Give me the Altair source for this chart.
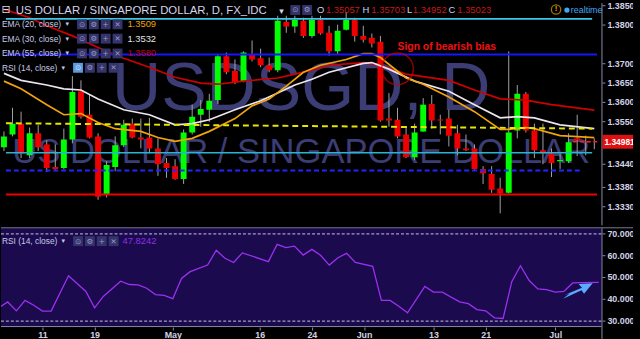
import altair as alt
import pandas as pd

# ---------------- data ----------------
# trading-day index: 0 = 11 Apr, 15 = 2 May, 37 = 1 Jun, 59 = 1 Jul
day = list(range(-5, 65))
open_ = [1.3484, 1.3517, 1.3545, 1.3463, 1.3520,
         1.3491, 1.3433, 1.3430, 1.3504, 1.3629, 1.3568, 1.3512, 1.3361, 1.3433, 1.3489,
         1.3545, 1.3509, 1.3509, 1.3481, 1.3443, 1.3435, 1.3402, 1.3522, 1.3568, 1.3581,
         1.3606, 1.3719, 1.3681, 1.3655, 1.3724, 1.3714, 1.3696, 1.3683, 1.3808, 1.3796,
         1.3811, 1.3772, 1.3813, 1.3780, 1.3732, 1.3788, 1.3813, 1.3772, 1.3767, 1.3757,
         1.3558, 1.3555, 1.3517, 1.3458, 1.3525, 1.3596, 1.3556, 1.3558, 1.3520, 1.3481,
         1.3481, 1.3428, 1.3415, 1.3377, 1.3366, 1.3527, 1.3622, 1.3527, 1.3476, 1.3468,
         1.3448, 1.3448, 1.3507, 1.3499, 1.3499]
high = [1.3525, 1.3586, 1.3576, 1.3535, 1.3542,
        1.3502, 1.3491, 1.3532, 1.3668, 1.3657, 1.3619, 1.3520, 1.3448, 1.3512, 1.3555,
        1.3558, 1.3558, 1.3560, 1.3507, 1.3456, 1.3453, 1.3530, 1.3594, 1.3606, 1.3622,
        1.3724, 1.3729, 1.3711, 1.3732, 1.3760, 1.3739, 1.3716, 1.3824, 1.3824, 1.3824,
        1.3819, 1.3824, 1.3824, 1.3798, 1.3801, 1.3834, 1.3819, 1.3798, 1.3778, 1.3772,
        1.3624, 1.3586, 1.3537, 1.3545, 1.3611, 1.3619, 1.3568, 1.3581, 1.3542, 1.3517,
        1.3491, 1.3435, 1.3435, 1.3405, 1.3732, 1.3645, 1.3627, 1.3545, 1.3545, 1.3481,
        1.3466, 1.3520, 1.3568, 1.3514, 1.3507]
low = [1.3474, 1.3512, 1.3456, 1.3456, 1.3474,
       1.3420, 1.3426, 1.3427, 1.3494, 1.3558, 1.3507, 1.3348, 1.3354, 1.3422, 1.3484,
       1.3507, 1.3481, 1.3468, 1.3410, 1.3405, 1.3400, 1.3389, 1.3517, 1.3537, 1.3550,
       1.3596, 1.3673, 1.3647, 1.3652, 1.3706, 1.3691, 1.3678, 1.3678, 1.3780, 1.3780,
       1.3767, 1.3767, 1.3775, 1.3721, 1.3724, 1.3786, 1.3757, 1.3755, 1.3742, 1.3550,
       1.3537, 1.3507, 1.3456, 1.3451, 1.3524, 1.3532, 1.3517, 1.3486, 1.3463, 1.3474,
       1.3426, 1.3389, 1.3366, 1.3313, 1.3364, 1.3507, 1.3522, 1.3456, 1.3440, 1.3407,
       1.3428, 1.3443, 1.3461, 1.3463, 1.3479]
close = [1.3512, 1.3545, 1.3468, 1.3520, 1.3484,
         1.3430, 1.3428, 1.3504, 1.3627, 1.3563, 1.3509, 1.3356, 1.3438, 1.3489, 1.3542,
         1.3509, 1.3504, 1.3481, 1.3440, 1.3430, 1.3402, 1.3522, 1.3563, 1.3583, 1.3604,
         1.3719, 1.3678, 1.3652, 1.3729, 1.3711, 1.3696, 1.3683, 1.3811, 1.3796, 1.3813,
         1.3772, 1.3813, 1.3778, 1.3732, 1.3785, 1.3813, 1.3772, 1.3762, 1.3752, 1.3553,
         1.3553, 1.3512, 1.3458, 1.3522, 1.3594, 1.3553, 1.3553, 1.3514, 1.3481, 1.3476,
         1.3428, 1.3417, 1.3374, 1.3364, 1.3522, 1.3622, 1.3527, 1.3476, 1.3468, 1.3443,
         1.3451, 1.3497, 1.3502, 1.3497, 1.3498]

ema20_day = [-5, -3, 0, 2, 4, 6, 8, 11, 13, 15, 17, 19, 22, 24, 26, 28, 30, 32, 35, 37,
             38, 39, 42, 44, 47, 50, 53, 54, 56, 57, 60, 64]
ema20_val = [1.3655, 1.3635, 1.3594, 1.3568, 1.3571, 1.3548, 1.3532, 1.3525, 1.3509, 1.3499,
             1.3507, 1.3525, 1.3558, 1.3591, 1.3609, 1.3642, 1.3678, 1.3696, 1.3711, 1.3726,
             1.3726, 1.3716, 1.3663, 1.3647, 1.3614, 1.3576, 1.3530, 1.3530, 1.3535, 1.3532,
             1.3514, 1.3509]
ema30_day = [-5, -3, 0, 2, 4, 6, 9, 12, 15, 17, 19, 22, 25, 27, 29, 31, 33, 37, 38, 40,
             43, 47, 50, 53, 55, 57, 60, 64]
ema30_val = [1.3675, 1.3657, 1.3645, 1.3635, 1.3632, 1.3609, 1.3581, 1.3568, 1.3542, 1.3545,
             1.3555, 1.3581, 1.3604, 1.3624, 1.3645, 1.3660, 1.3678, 1.3701, 1.3703, 1.3686,
             1.3655, 1.3629, 1.3594, 1.3560, 1.3563, 1.3560, 1.3542, 1.3532]
ema55_day = [-5, -2, 0, 3, 6, 9, 12, 15, 18, 20, 23, 27, 29, 31, 33, 37, 39, 42, 47, 50,
             53, 56, 59, 64]
ema55_val = [1.3841, 1.3819, 1.3798, 1.3772, 1.3742, 1.3714, 1.3691, 1.3665, 1.3650, 1.3647,
             1.3655, 1.3663, 1.3673, 1.3683, 1.3696, 1.3703, 1.3696, 1.3673, 1.3657, 1.3632,
             1.3609, 1.3606, 1.3594, 1.3580]

rsi_day = [-5, -4, -3, -2, -1, 0, 1, 3, 5, 6, 7, 9, 10, 11, 12, 13, 14, 15, 16, 17,
           19, 20, 21, 22, 23, 26, 27, 28, 29, 30, 31, 32, 33, 34, 35, 36, 38, 39, 40, 41,
           42, 44, 45, 46, 48, 49, 50, 51, 52, 53, 54, 55, 56, 57, 58, 59, 60, 61, 62, 64]
rsi_val = [36.2, 38.8, 34.7, 39.5, 37.3, 34.6, 34.6, 50.8, 43.6, 36.1, 41.3, 48.3, 46.8, 46.6, 45.1,
           42.2, 41.8, 40.3, 49.6, 52.7, 55.7, 62.5, 58.8, 56.9, 61.3, 57.3, 65.2, 63.7, 64.4, 60.3,
           62.9, 60.2, 55.7, 59.1, 61.1, 56.9, 55.1, 39.5, 39.5, 36.8, 33.8, 45.9, 43.3, 43.3, 38.8,
           38.0, 35.3, 34.7, 31.5, 31.2, 48.1, 55.4, 48.6, 44.8, 44.4, 43.3, 43.6, 47.5, 47.7, 47.8]

# drawn levels (price) and their end day
cyan_top = 1.3816
blue_level = 1.3724
cyan_mid = 1.3470
blue_dash_level = 1.3424
red_level = 1.3362
trend_day = [-4.77, 63.75]
trend_price = [1.3546, 1.3532]
last_price = 1.34981

x_tick_day = [0, 6, 15, 25, 31, 37, 45, 51, 59]
x_tick_lbl = ["11", "19", "May", "16", "24", "Jun", "13", "21", "Jul"]
price_ticks = [1.385, 1.38, 1.37, 1.365, 1.36, 1.355, 1.344, 1.338, 1.333]
rsi_ticks = [30, 40, 50, 60, 70]

# ---------------- layout / style ----------------
PLOT_W, FULL_W, TOP_H, BOT_H = 608, 640, 225, 100
PX_PER_DAY = 8.8
X0 = -4.77
X1 = X0 + PLOT_W / PX_PER_DAY      # right edge of the plotting area
XF = X0 + FULL_W / PX_PER_DAY      # right edge of the whole view (axis strip included)
xs = alt.Scale(domain=[X0, XF], nice=False, zero=False)
ys = alt.Scale(domain=[1.3282, 1.38568], nice=False, zero=False)
rs = alt.Scale(domain=[27.28, 72.58], nice=False, zero=False)
UI = "Liberation Sans, Arial, sans-serif"
TXT = "#c8c8e6"
AX_COL = "#8a8aaa"
AX_LBL = "#d2d2e6"

candles = pd.DataFrame({"day": day, "open": open_, "high": high, "low": low, "close": close})


def X(field="day:Q"):
    return alt.X(field, scale=xs, axis=None)


def Yp(field):
    return alt.Y(field, scale=ys, axis=None)


def Yr(field):
    return alt.Y(field, scale=rs, axis=None)


def one():
    return alt.Chart(pd.DataFrame({"a": [0]}))


def label(s, x, y, color=TXT, size=9, weight="normal", font=UI, align="left"):
    return alt.Chart(pd.DataFrame({"t": [s]})).mark_text(
        align=align, baseline="middle", color=color, fontSize=size, fontWeight=weight, font=font
    ).encode(x=alt.value(x), y=alt.value(y), text="t:N")


def icons(x0, yc, glyphs, hi=False):
    out = []
    for k, g in enumerate(glyphs):
        xl = x0 + 12 * k
        fill = "#5b9be0" if (hi and k == 0) else "#34346a"
        out.append(one().mark_rect(color=fill).encode(
            x=alt.value(xl), x2=alt.value(xl + 10), y=alt.value(yc - 5), y2=alt.value(yc + 5)))
        out.append(label(g, xl + 5, yc + 0.5, color="#e0e0f4" if (hi and k == 0) else "#9a9ac8",
                         size=7.5, font="DejaVu Sans", align="center"))
    return out


def hline(price, end, color, width, dash=None):
    df = pd.DataFrame({"d0": [X0], "d1": [end], "p": [price]})
    kw = dict(color=color, strokeWidth=width, clip=True)
    if dash:
        kw["strokeDash"] = dash
    return alt.Chart(df).mark_rule(**kw).encode(x=X("d0:Q"), x2="d1:Q", y=Yp("p:Q"))


def right_axis(ticks, fmt, yenc, height):
    df = pd.DataFrame({"v": ticks, "lbl": [format(t, fmt) for t in ticks]})
    line = one().mark_rule(color=AX_COL, strokeWidth=1).encode(
        x=alt.value(PLOT_W + 0.5), y=alt.value(0), y2=alt.value(height))
    tk = alt.Chart(df).mark_rule(color=AX_COL, strokeWidth=1).encode(
        x=alt.value(PLOT_W + 1), x2=alt.value(PLOT_W + 4), y=yenc("v:Q"))
    tx = alt.Chart(df).mark_text(
        align="left", baseline="middle", color=AX_LBL, fontSize=9, fontWeight="bold",
        font=UI, clip=True).encode(x=alt.value(PLOT_W + 6), y=yenc("v:Q"), text="lbl:N")
    return [line, tk, tx]


# watermark
wm1 = label("USDSGD, D", 304, 87, color="#3b3d74", size=69, align="center")
wm2 = label("US DOLLAR / SINGAPORE DOLLAR", 304, 151, color="#3b3d74", size=35, align="center")

# candles
wicks = alt.Chart(candles).mark_rule(color="#a4a4a4", strokeWidth=1, clip=True).encode(
    x=X(), y=Yp("low:Q"), y2="high:Q")
bodies = alt.Chart(candles).mark_bar(size=6, clip=True).encode(
    x=X(), y=Yp("open:Q"), y2="close:Q",
    color=alt.condition("datum.close >= datum.open", alt.value("#00ff00"), alt.value("#ee0000")))


def ema(days, vals, color, width=1.7):
    df = pd.DataFrame({"day": days, "v": vals})
    return alt.Chart(df).mark_line(color=color, strokeWidth=width, clip=True).encode(
        x=X(), y=Yp("v:Q"))


e55 = ema(ema55_day, ema55_val, "#d00000")
e30 = ema(ema30_day, ema30_val, "#ece4ee")
e20 = ema(ema20_day, ema20_val, "#f0a30a")

trend = alt.Chart(pd.DataFrame({"day": trend_day, "p": trend_price})).mark_line(
    color="#e6e600", strokeWidth=2, strokeDash=[6, 4], clip=True).encode(x=X(), y=Yp("p:Q"))

lines = [
    hline(cyan_top, 63.75, "#3cc8e8", 2),
    hline(blue_level, X1, "#1616ff", 2),
    hline(cyan_mid, 63.75, "#28b4d2", 1.5),
    hline(blue_dash_level, 62.6, "#2424ff", 2, [5, 3]),
    hline(red_level, X1, "#ee0000", 2),
]
cur = alt.Chart(pd.DataFrame({"d0": [61.5], "d1": [X1], "p": [last_price]})).mark_rule(
    color="#ff2020", strokeWidth=1.5, strokeDash=[4, 3], clip=True).encode(
    x=X("d0:Q"), x2="d1:Q", y=Yp("p:Q"))

# annotation
circ = alt.Chart(pd.DataFrame({"day": [41.0], "p": [1.3687]})).mark_point(
    shape="circle", size=1024, filled=False, color="#d00000", strokeWidth=1.5).encode(
    x=X(), y=Yp("p:Q"))
note = alt.Chart(pd.DataFrame({"day": [41.0], "p": [1.3744], "t": ["Sign of bearish bias"]})).mark_text(
    align="left", baseline="middle", color="#ee1111", fontSize=10.5, fontWeight="bold", font=UI).encode(
    x=X(), y=Yp("p:Q"), text="t:N")

# last-price box on the axis strip
last_df = pd.DataFrame({"p": [last_price], "t": ["1.34981"]})
pbox = alt.Chart(last_df).mark_rule(color="#e01010", strokeWidth=14, strokeCap="butt").encode(
    x=alt.value(PLOT_W + 1), x2=alt.value(FULL_W), y=Yp("p:Q"))
ptxt = alt.Chart(last_df).mark_text(
    align="left", baseline="middle", color="#ffffff", fontSize=8.5, fontWeight="bold", font=UI,
    clip=True).encode(x=alt.value(PLOT_W + 3), y=Yp("p:Q"), text="t:N")

# header / legend
hdr = [
    label("\u229f", 5, 7, color="#d8d8f0", size=11, font="DejaVu Sans", align="center"),
    label("US DOLLAR / SINGAPORE DOLLAR, D, FX_IDC", 15, 8, color="#d4d4ee", size=11.5),
    label("\u25be", 284, 8, color="#d4d4ee", size=9, font="DejaVu Sans", align="center"),
]
hdr += icons(293, 7, ["\u2299", "\u2699"])
for s, x, c in [("O", 320, "#d4d4ee"), ("1.35057", 329, "#c81818"), ("H", 366, "#d4d4ee"),
                ("1.35703", 375, "#c81818"), ("L", 411, "#d4d4ee"), ("1.34952", 417, "#c81818"),
                ("C", 453, "#d4d4ee"), ("1.35023", 462, "#c81818")]:
    hdr.append(label(s, x, 7, color=c, size=9.5))
hdr.append(one().mark_point(shape="circle", size=90, filled=False, color="#e0a000",
                            strokeWidth=1.3).encode(x=alt.value(562), y=alt.value(6.5)))
hdr.append(label("!", 562, 6.5, color="#e0a000", size=8, weight="bold", align="center"))
hdr.append(one().mark_point(shape="circle", size=28, filled=True, color="#40a8f0", opacity=1).encode(
    x=alt.value(573), y=alt.value(7)))
hdr.append(label("realtime", 577, 7, color="#40a8f0", size=9))

rows = [("EMA (20, close)", 21.5, "1.3509", "#f0a30a"),
        ("EMA (30, close)", 36, "1.3532", "#e4e4e4"),
        ("EMA (55, close)", 51, "1.3580", "#c00000")]
for name, yc, val, col in rows:
    hdr.append(label(name, 1, yc, size=8.5))
    hdr.append(label("\u25be", 67, yc, size=7, font="DejaVu Sans", align="center"))
    hdr += icons(77, yc, ["\u2299", "\u2699", "+", "\u2715"])
    hdr.append(label(val, 128, yc, color=col, size=9.5))
hdr.append(label("RSI (14, close)", 1, 65.5, size=8.5))
hdr.append(label("\u25be", 63, 65.5, size=7, font="DejaVu Sans", align="center"))
hdr += icons(73, 65.5, ["\u2299", "\u2699", "+", "\u2715"], hi=True)

top = alt.layer(wm1, wm2, wicks, bodies, e55, e30, e20, trend, *lines, cur, circ, note,
                *right_axis(price_ticks, ".5f", Yp, TOP_H), *hdr, pbox, ptxt).properties(
    width=FULL_W, height=TOP_H, view=alt.ViewBackground(fill="#000000", stroke=None))

# ---------------- RSI panel ----------------
lbl_expr = " : ".join(f"datum.value == {d} ? '{l}'" for d, l in zip(x_tick_day, x_tick_lbl)) + " : ''"
x_axis = alt.Axis(values=x_tick_day, labelExpr=lbl_expr, title=None, grid=False, domain=False,
                  tickSize=3, tickColor=AX_COL, labelColor=AX_LBL, labelFontSize=9, labelFont=UI,
                  labelFontWeight="bold", labelPadding=1, labelFlush=False)

panel = one().mark_rect(color="#1b0b4e").encode(
    x=alt.value(0), x2=alt.value(PLOT_W), y=alt.value(0), y2=alt.value(BOT_H))
bands = alt.Chart(pd.DataFrame({"r": [70, 30]})).mark_rule(
    color="#c8c8dc", strokeWidth=1, strokeDash=[3, 2]).encode(
    x=alt.value(0), x2=alt.value(PLOT_W), y=Yr("r:Q"))
rsi_df = pd.DataFrame({"day": rsi_day, "rsi": rsi_val})
rsi_line = alt.Chart(rsi_df).mark_line(color="#9b30f0", strokeWidth=1.3, clip=True).encode(
    x=alt.X("day:Q", scale=xs, axis=x_axis), y=Yr("rsi:Q"))
sep = one().mark_rule(color="#7a7a9c", strokeWidth=1).encode(
    x=alt.value(0), x2=alt.value(FULL_W), y=alt.value(-0.5))
base_line = one().mark_rule(color=AX_COL, strokeWidth=1).encode(
    x=alt.value(0), x2=alt.value(PLOT_W), y=alt.value(BOT_H - 0.5))
arrow_path = ("M -1 0.55 L 0.25 -0.02 L 0.42 0.22 L 1 -0.5 L 0.05 -0.45 L 0.28 -0.2 "
              "L -0.9 0.3 L -0.55 0.2 Z")
arrow = alt.Chart(pd.DataFrame({"day": [61.6], "r": [44.0]})).mark_point(
    shape=arrow_path, size=900, filled=True, color="#5aaaff", opacity=1).encode(
    x=alt.X("day:Q", scale=xs, axis=x_axis), y=Yr("r:Q"))
rsi_hdr = [label("RSI (14, close)", 1, 13, size=8.5),
           label("\u25be", 63, 13, size=7, font="DejaVu Sans", align="center")]
rsi_hdr += icons(73, 13, ["\u2299", "\u2699", "+", "\u2715"])
rsi_hdr.append(label("47.8242", 123, 13, color="#8c2ee6", size=9.5))

ax_r = right_axis(rsi_ticks, ".4f", Yr, BOT_H)
ax_r[0] = one().mark_rule(color=AX_COL, strokeWidth=1).encode(
    x=alt.value(PLOT_W + 0.5), y=alt.value(0), y2=alt.value(BOT_H + 12))

bottom = alt.layer(panel, bands, rsi_line, arrow, sep, base_line, *ax_r, *rsi_hdr).properties(
    width=FULL_W, height=BOT_H, view=alt.ViewBackground(fill="#000000", stroke=None))

chart = alt.vconcat(top, bottom, spacing=1, padding=0, background="#000000").configure_view(
    stroke=None)

chart.save("out.html", embed_options={"renderer": "svg", "actions": False})
